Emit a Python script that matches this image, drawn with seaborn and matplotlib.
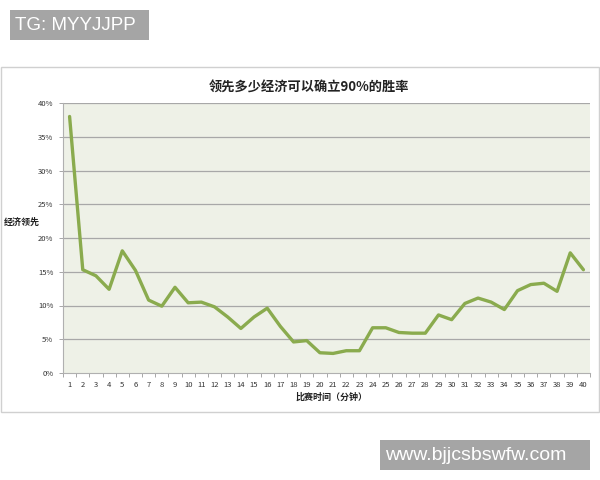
import matplotlib
matplotlib.use("Agg")
import matplotlib.pyplot as plt
from matplotlib.patches import Rectangle
import seaborn as sns
import pandas as pd
import numpy as np

minutes = list(range(1, 41))
lead_pct = [38.0, 15.3, 14.4, 12.4, 18.1, 15.2, 10.8, 9.9, 12.7, 10.4,
            10.5, 9.8, 8.3, 6.6, 8.3, 9.6, 6.9, 4.6, 4.8, 3.0,
            2.9, 3.3, 3.3, 6.7, 6.7, 6.0, 5.9, 5.9, 8.6, 7.9,
            10.3, 11.1, 10.5, 9.4, 12.2, 13.1, 13.3, 12.1, 17.8, 15.3]
yticks = [0, 5, 10, 15, 20, 25, 30, 35, 40]
ytick_labels = [f"{v}%" for v in yticks]

title = "领先多少经济可以确立90%的胜率"
xlabel = "比赛时间（分钟）"
ylabel = "经济领先"

sns.set_theme(style="white")
plt.rcParams['font.family'] = ['Noto Sans CJK SC', 'DejaVu Sans']

fig = plt.figure(figsize=(6, 4.8), dpi=100)
fig.patch.set_facecolor("white")

# outer chart frame
fig.patches.append(Rectangle((1/600, 1 - 412/480), 598/600, (412-67)/480,
                             transform=fig.transFigure, facecolor="none",
                             edgecolor="#d0d0d0", linewidth=1.0, zorder=0))

ax = fig.add_axes([63/600, 1 - 373/480, (590-63)/600, (373-103)/480])
ax.set_facecolor("#eef1e7")

df = pd.DataFrame({"minute": minutes, "lead": lead_pct})
sns.lineplot(data=df, x="minute", y="lead", ax=ax, color="#8aab4e",
             linewidth=2.4, zorder=3)

ax.set_xlim(0.5, 40.5)
ax.set_ylim(0, 40)
ax.set_yticks(yticks)
ax.set_yticklabels(ytick_labels, fontsize=5.5, color="#333333")
ax.set_xticks(minutes)
ax.set_xticklabels([str(m) for m in minutes], fontsize=5.5, color="#333333")
ax.set_xticks(np.arange(0.5, 41, 1), minor=True)
ax.tick_params(axis="x", which="major", length=0, pad=6)
ax.tick_params(axis="x", which="minor", length=3, color="#999999", width=0.6, bottom=True)
ax.tick_params(axis="y", length=3, color="#999999", width=0.6, left=True, pad=4)
for v in yticks[1:]:
    ax.axhline(v, color="#a8a8a8", linewidth=0.9, zorder=1)

for s in ["top", "right"]:
    ax.spines[s].set_visible(False)
ax.spines["left"].set_color("#b0b0b0")
ax.spines["bottom"].set_color("#b0b0b0")
ax.spines["left"].set_linewidth(0.8)
ax.spines["bottom"].set_linewidth(0.8)

ax.set_xlabel("")
ax.set_ylabel("")
fig.text(331/600, 1 - 397/480, xlabel, ha="center", va="center",
         fontsize=6.5, fontweight="bold", color="#222222")
fig.text(22/600, 1 - 222/480, ylabel, ha="center", va="center",
         fontsize=6.5, fontweight="bold", color="#222222")
fig.text(309/600, 1 - 88/480, title, ha="center", va="center",
         fontsize=9.5, fontweight="bold", color="#222222")

# overlay watermark boxes
fig.patches.append(Rectangle((10/600, 1 - 40/480), 139/600, 30/480,
                             transform=fig.transFigure, facecolor="#a5a5a5",
                             edgecolor="none", zorder=5))
fig.text(15/600, 1 - 25/480, "TG: MYYJJPP", ha="left", va="center",
         fontsize=13.5, color="white", family=["Liberation Sans", "DejaVu Sans"], zorder=6)
fig.patches.append(Rectangle((380/600, 1 - 470/480), 210/600, 30/480,
                             transform=fig.transFigure, facecolor="#a5a5a5",
                             edgecolor="none", zorder=5))
fig.text(385/600, 1 - 455/480, "www.bjjcsbswfw.com", ha="left", va="center",
         fontsize=14, color="white", family=["Liberation Sans", "DejaVu Sans"], zorder=6)

fig.savefig("out.png", dpi=100)
